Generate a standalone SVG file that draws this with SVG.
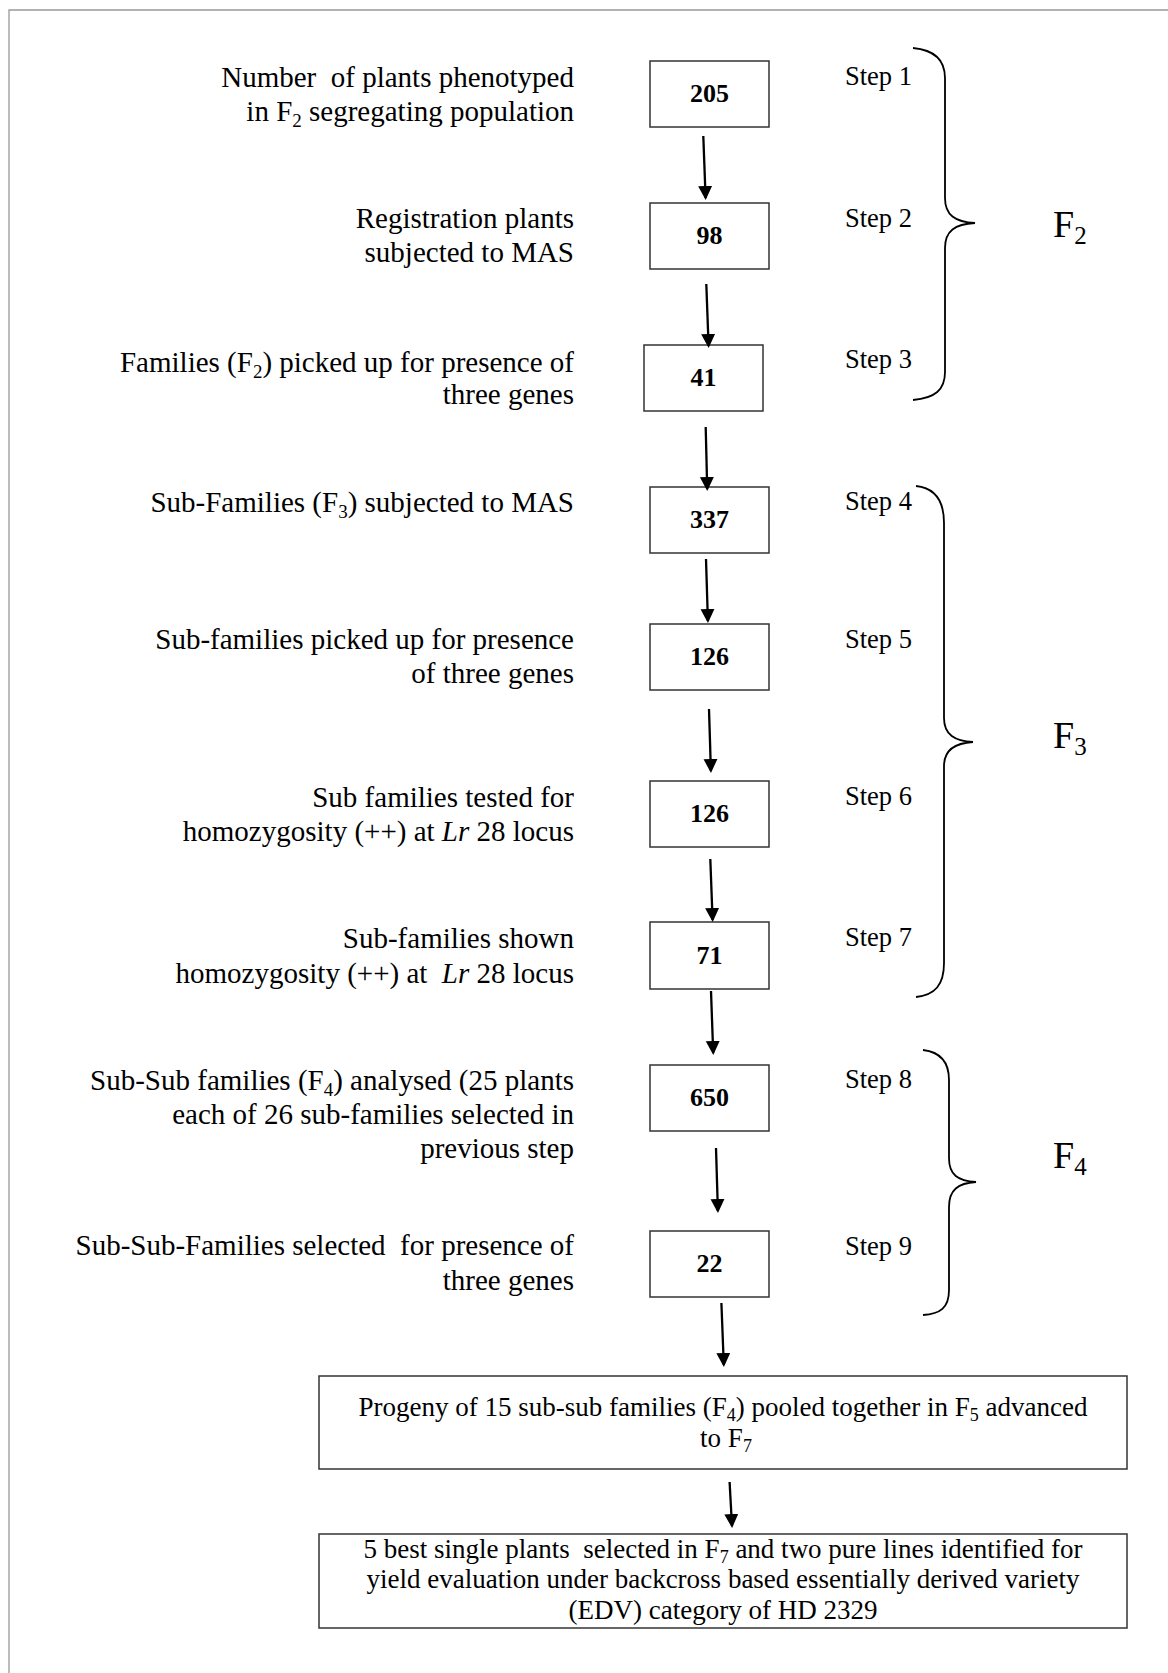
<svg xmlns="http://www.w3.org/2000/svg" width="1168" height="1673" viewBox="0 0 1168 1673">
<defs>
<style>
.lbl{font-family:"Liberation Serif","Times New Roman",serif;font-size:29px;fill:#000;text-anchor:end}
.stp{font-family:"Liberation Serif","Times New Roman",serif;font-size:26.5px;fill:#000}
.num{font-family:"Liberation Serif","Times New Roman",serif;font-size:26px;font-weight:bold;fill:#000;text-anchor:middle}
.btx{font-family:"Liberation Serif","Times New Roman",serif;font-size:27px;fill:#000;text-anchor:middle}
.gen{font-family:"Liberation Serif","Times New Roman",serif;font-size:38px;fill:#000}
.box{fill:#fff;stroke:#333;stroke-width:1.5}
.arr{fill:none;stroke:#000;stroke-width:2.3}
.brc{fill:none;stroke:#000;stroke-width:1.8}
</style>
<marker id="ah" markerUnits="userSpaceOnUse" markerWidth="16" markerHeight="16" refX="12" refY="7" orient="auto">
<path d="M0,0 L14,7 L0,14 z" fill="#000"/>
</marker>
</defs>
<rect x="0" y="0" width="1168" height="1673" fill="#fff"/>
<path d="M9,1673 L9,10 L1168,10" fill="none" stroke="#999" stroke-width="1.3"/>

<g id="node-1">
<text class="lbl" x="574" y="87" xml:space="preserve">Number  of plants phenotyped</text>
<text class="lbl" x="574" y="121">in F<tspan font-size="19" dy="6">2</tspan><tspan dy="-6"> segregating population</tspan></text>
<rect class="box" x="650" y="61" width="119" height="66"/>
<text class="num" x="709.5" y="102">205</text>
<text class="stp" x="845" y="85">Step 1</text>
</g>
<g id="node-2">
<text class="lbl" x="574" y="228">Registration plants</text>
<text class="lbl" x="574" y="262">subjected to MAS</text>
<rect class="box" x="650" y="203" width="119" height="66"/>
<text class="num" x="709.5" y="244">98</text>
<text class="stp" x="845" y="227">Step 2</text>
</g>
<g id="node-3">
<text class="lbl" x="574" y="372">Families (F<tspan font-size="19" dy="6">2</tspan><tspan dy="-6">) picked up for presence of</tspan></text>
<text class="lbl" x="574" y="404">three genes</text>
<rect class="box" x="644" y="345" width="119" height="66"/>
<text class="num" x="703.5" y="386">41</text>
<text class="stp" x="845" y="368">Step 3</text>
</g>
<g id="node-4">
<text class="lbl" x="574" y="512">Sub-Families (F<tspan font-size="19" dy="6">3</tspan><tspan dy="-6">) subjected to MAS</tspan></text>
<rect class="box" x="650" y="487" width="119" height="66"/>
<text class="num" x="709.5" y="528">337</text>
<text class="stp" x="845" y="510">Step 4</text>
</g>
<g id="node-5">
<text class="lbl" x="574" y="649">Sub-families picked up for presence</text>
<text class="lbl" x="574" y="683">of three genes</text>
<rect class="box" x="650" y="624" width="119" height="66"/>
<text class="num" x="709.5" y="665">126</text>
<text class="stp" x="845" y="648">Step 5</text>
</g>
<g id="node-6">
<text class="lbl" x="574" y="807">Sub families tested for</text>
<text class="lbl" x="574" y="841">homozygosity (++) at <tspan font-style="italic">Lr</tspan> 28 locus</text>
<rect class="box" x="650" y="781" width="119" height="66"/>
<text class="num" x="709.5" y="822">126</text>
<text class="stp" x="845" y="805">Step 6</text>
</g>
<g id="node-7">
<text class="lbl" x="574" y="948">Sub-families shown</text>
<text class="lbl" x="574" y="983" xml:space="preserve">homozygosity (++) at  <tspan font-style="italic">Lr</tspan> 28 locus</text>
<rect class="box" x="650" y="922" width="119" height="67"/>
<text class="num" x="709.5" y="964">71</text>
<text class="stp" x="845" y="946">Step 7</text>
</g>
<g id="node-8">
<text class="lbl" x="574" y="1090">Sub-Sub families (F<tspan font-size="19" dy="6">4</tspan><tspan dy="-6">) analysed (25 plants</tspan></text>
<text class="lbl" x="574" y="1124">each of 26 sub-families selected in</text>
<text class="lbl" x="574" y="1158">previous step</text>
<rect class="box" x="650" y="1065" width="119" height="66"/>
<text class="num" x="709.5" y="1106">650</text>
<text class="stp" x="845" y="1088">Step 8</text>
</g>
<g id="node-9">
<text class="lbl" x="574" y="1255" xml:space="preserve">Sub-Sub-Families selected  for presence of</text>
<text class="lbl" x="574" y="1290">three genes</text>
<rect class="box" x="650" y="1231" width="119" height="66"/>
<text class="num" x="709.5" y="1272">22</text>
<text class="stp" x="845" y="1255">Step 9</text>
</g>
<g id="node-10">
<rect class="box" x="319" y="1376" width="808" height="93"/>
<text class="btx" x="723" y="1416">Progeny of 15 sub-sub families (F<tspan font-size="18" dy="5">4</tspan><tspan dy="-5">) pooled together in F</tspan><tspan font-size="18" dy="5">5</tspan><tspan dy="-5"> advanced</tspan></text>
<text class="btx" x="726" y="1447">to F<tspan font-size="18" dy="5">7</tspan></text>
</g>
<g id="node-11">
<rect class="box" x="319" y="1534" width="808" height="94"/>
<text class="btx" x="723" y="1558" xml:space="preserve">5 best single plants  selected in F<tspan font-size="18" dy="5">7</tspan><tspan dy="-5"> and two pure lines identified for</tspan></text>
<text class="btx" x="723" y="1588">yield evaluation under backcross based essentially derived variety</text>
<text class="btx" x="723" y="1619">(EDV) category of HD 2329</text>
</g>
<g id="group-F2">
<path class="brc" d="M913,48 C935,50 945,60 945,78 L945,198 C945,215 955,222 975,223 C955,224 945,231 945,248 L945,372 C945,390 935,398 913,400"/>
<text class="gen" x="1053" y="237">F<tspan font-size="25" dy="7">2</tspan></text>
</g>
<g id="group-F3">
<path class="brc" d="M916,486 C935,488 944,500 944,523 L944,718 C944,735 955,741 973,742 C955,743 944,750 944,766 L944,963 C944,985 935,995 916,997"/>
<text class="gen" x="1053" y="748">F<tspan font-size="25" dy="7">3</tspan></text>
</g>
<g id="group-F4">
<path class="brc" d="M923,1050 C940,1052 949,1062 949,1080 L949,1158 C949,1175 958,1181 976,1182 C958,1183 949,1190 949,1207 L949,1290 C949,1308 940,1314 923,1315"/>
<text class="gen" x="1053" y="1168">F<tspan font-size="25" dy="7">4</tspan></text>
</g>
<g id="connectors">
<path class="arr" marker-end="url(#ah)" d="M703.3,136 L705.6,198"/>
<path class="arr" marker-end="url(#ah)" d="M706.3,284 L708.6,346"/>
<path class="arr" marker-end="url(#ah)" d="M705.7,427 L707.2,489"/>
<path class="arr" marker-end="url(#ah)" d="M706,559 L707.9,621"/>
<path class="arr" marker-end="url(#ah)" d="M709,709 L710.9,771"/>
<path class="arr" marker-end="url(#ah)" d="M710.3,859 L712.6,920"/>
<path class="arr" marker-end="url(#ah)" d="M711,991 L713.2,1053"/>
<path class="arr" marker-end="url(#ah)" d="M716,1148 L717.9,1211"/>
<path class="arr" marker-end="url(#ah)" d="M721.4,1303 L723.8,1365"/>
<path class="arr" marker-end="url(#ah)" d="M729.6,1482 L732,1526"/>
</g>
</svg>
